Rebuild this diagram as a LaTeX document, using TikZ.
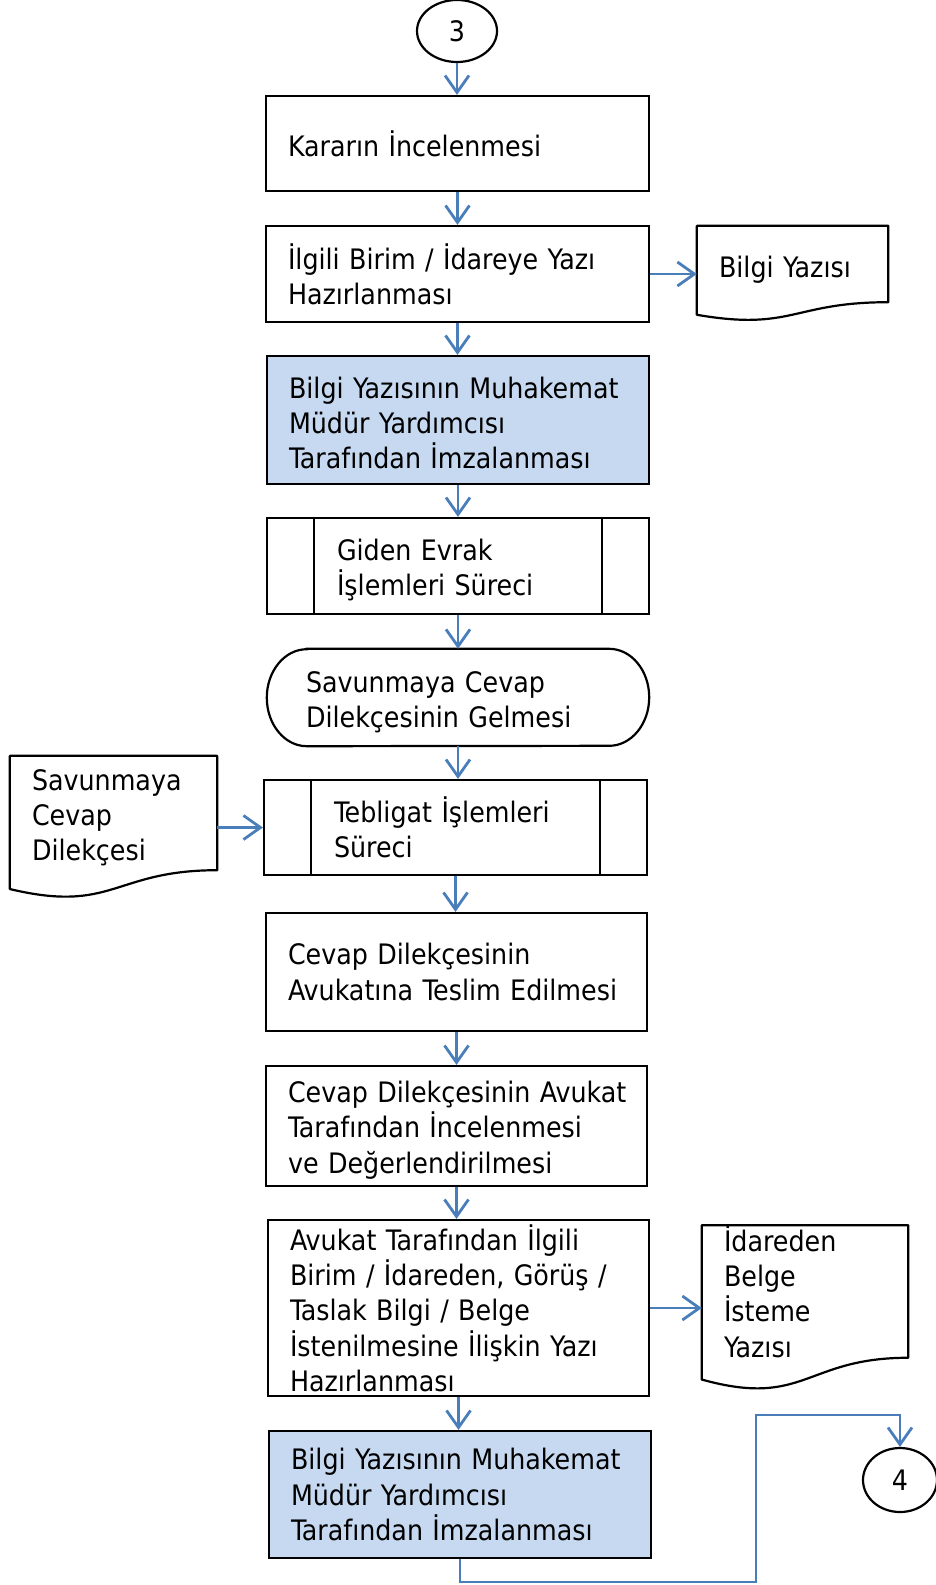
\documentclass[tikz,border=0pt]{standalone}
\usepackage{fontspec}
\setmainfont{DejaVu Sans Condensed}
\usetikzlibrary{arrows.meta,shapes.geometric,calc}
\definecolor{arrcol}{HTML}{4A7EBB}
\definecolor{fillb}{HTML}{C6D9F1}
\newcommand\nb[1]{\mbox{#1}}
\newcommand\up[1]{\rule{0pt}{#1}}
\tikzset{
  txt/.style={font=\fontsize{28.2}{35.3}\selectfont, text=black, align=left},
  box/.style={txt, draw=black, line width=2.2pt, rectangle, inner xsep=22pt, inner ysep=0pt},
  bluebox/.style={box, fill=fillb},
  procbox/.style={box, inner xsep=70pt},
  docn/.style={txt, inner xsep=22pt, inner ysep=0pt},
  conn/.style={txt, draw=black, line width=2.2pt, ellipse, inner sep=0pt},
  flow/.style={draw=arrcol, line width=2.8pt, -{Straight Barb[length=17pt,width=24pt,line width=2.8pt]}},
  docline/.style={draw=black, line width=2.2pt, line join=round}
}
\newcommand\docpath[1]{\draw[docline] (#1.north west) -- (#1.north east) -- (#1.south east) .. controls (#1.south) and ($(#1.north)!1.381!(#1.south)$) .. ($(#1.north west)!1.1646!(#1.south west)$) -- cycle;}
\newcommand\proclines[1]{\draw[line width=2.2pt] ([xshift=48pt]#1.north west) -- ([xshift=48pt]#1.south west);
  \draw[line width=2.2pt] ([xshift=-48pt]#1.north east) -- ([xshift=-48pt]#1.south east);}
\begin{document}
\begin{tikzpicture}[x=1pt,y=-1pt]
\useasboundingbox (0,0) rectangle (935,1585);
% connectors
\node[conn, minimum width=80pt, minimum height=62pt] (c3) at (457,31) {3};
\node[conn, minimum width=74pt, minimum height=64pt] (c4) at (900,1480) {4};
% main boxes
\node[box, minimum height=95pt, text width=339pt] (b1) at (457.5,143.5) {Kararın İncelenmesi};
\node[box, minimum height=96pt, text width=339pt] (b2) at (457.5,274) {İlgili Birim / İdareye Yazı\\Hazırlanması};
\node[bluebox, minimum height=128pt, text width=338pt] (b3) at (458,420) {\up{27.5pt}\nb{Bilgi Yazısının Muhakemat}\\Müdür Yardımcısı\\Tarafından İmzalanması};
\node[procbox, minimum height=96pt, text width=242pt] (b4) at (458,566) {\up{29.5pt}Giden Evrak\\İşlemleri Süreci};
\proclines{b4}
\node[txt, minimum height=97pt, text width=304pt, inner xsep=39pt, inner ysep=0pt] (b5) at (458,697.5) {\up{30.6pt}Savunmaya Cevap\\Dilekçesinin Gelmesi};
\draw[line width=2.2pt] ([xshift=40pt]b5.north west) -- ([xshift=-40pt]b5.north east)
  arc[start angle=90, end angle=-90, x radius=40pt, y radius=48.5pt]
  -- ([xshift=40pt]b5.south west)
  arc[start angle=270, end angle=90, x radius=40pt, y radius=48.5pt] -- cycle;
\node[procbox, minimum height=95pt, text width=243pt] (b6) at (455.5,827.5) {Tebligat İşlemleri\\Süreci};
\proclines{b6}
\node[box, minimum height=118pt, text width=337pt] (b7) at (456.5,972) {Cevap Dilekçesinin\\\nb{Avukatına Teslim Edilmesi}};
\node[box, minimum height=120pt, text width=337pt] (b8) at (456.5,1126) {\up{29.5pt}\nb{Cevap Dilekçesinin Avukat}\\Tarafından İncelenmesi\\ve Değerlendirilmesi};
\node[box, minimum height=176pt, text width=337pt] (b9) at (458.5,1308) {Avukat Tarafından İlgili\\\nb{Birim / İdareden, Görüş /}\\Taslak Bilgi / Belge\\\nb{İstenilmesine İlişkin Yazı}\\Hazırlanması};
\node[bluebox, minimum height=127pt, text width=338pt] (b10) at (460,1494.5) {\nb{Bilgi Yazısının Muhakemat}\\Müdür Yardımcısı\\Tarafından İmzalanması};
% documents
\node[docn, minimum height=76pt, text width=147pt] (d1) at (792.5,264) {\up{33.5pt}Bilgi Yazısı};
\docpath{d1}
\node[docn, minimum height=114pt, text width=163pt] (d2) at (113.5,813) {\up{30.6pt}Savunmaya\\Cevap\\Dilekçesi};
\docpath{d2}
\node[docn, minimum height=127pt, text width=162pt] (d3) at (805,1291.5) {İdareden\\Belge\\İsteme\\Yazısı};
\docpath{d3}
% flow arrows
\draw[flow] (c3.south) -- (c3.south |- b1.north);
\draw[flow] (b1.south) -- (b1.south |- b2.north);
\draw[flow] (b2.south) -- (b2.south |- b3.north);
\draw[flow] (b3.south) -- (b3.south |- b4.north);
\draw[flow] (b4.south) -- (b4.south |- b5.north);
\draw[flow] (b5.south) -- (b5.south |- b6.north);
\draw[flow] (b6.south) -- (b6.south |- b7.north);
\draw[flow] (b7.south) -- (b7.south |- b8.north);
\draw[flow] (b8.south) -- (b8.south |- b9.north);
\draw[flow] (b9.south) -- (b9.south |- b10.north);
\draw[flow] (b2.east) -- (b2.east -| d1.west);
\draw[flow] (b6.west -| d2.east) -- (b6.west);
\draw[flow] (b9.east) -- (b9.east -| d3.west);
\coordinate (k1) at (756,1582);
\coordinate (k2) at (756,1415);
\draw[flow] (b10.south) |- (k1) -- (k2) -| (c4.north);
\end{tikzpicture}
\end{document}
